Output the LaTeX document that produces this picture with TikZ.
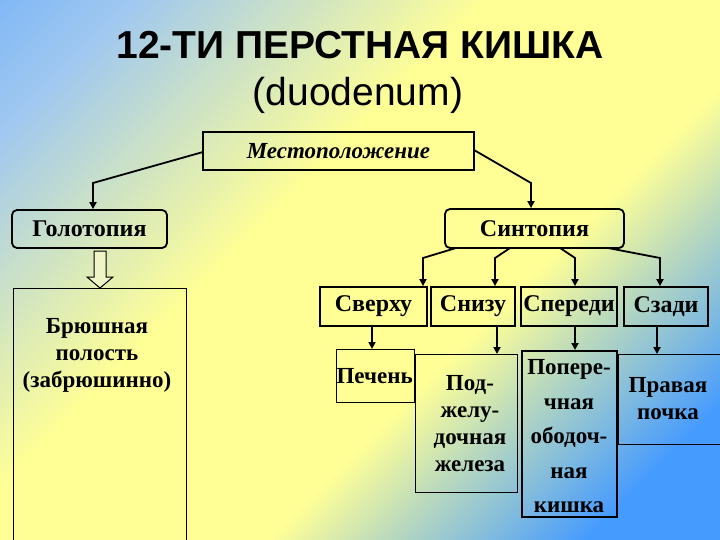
\documentclass[tikz,border=0pt]{standalone}
\usepackage{fontspec}
\setmainfont{Liberation Serif}
\newfontfamily\titlefont{Liberation Sans}
\usetikzlibrary{arrows.meta}
\definecolor{bgblue}{RGB}{70,155,255}
\definecolor{bglight}{RGB}{160,200,240}
\definecolor{bgyellow}{RGB}{255,255,150}
\pgfdeclareverticalshading{bgshade}{100bp}{color(0bp)=(bgblue); color(22bp)=(bgblue); color(40bp)=(bgyellow); color(58bp)=(bgyellow); color(78bp)=(bglight); color(100bp)=(bgblue)}
\begin{document}
\begin{tikzpicture}[x=1pt,y=-1pt,
  bx/.style={draw=black,line width=1.8pt,inner sep=0pt,font=\bfseries\fontsize{24}{27}\selectfont},
  thin/.style={draw=black,line width=1pt,inner sep=0pt},
  txt/.style={align=center,font=\bfseries\fontsize{23}{27}\selectfont},
  arr/.style={line width=1.8pt,-{Triangle[length=7pt,width=7pt]}}]
\shade[shading=bgshade,shading angle=45] (0,0) rectangle (720,540);
\useasboundingbox (0,0) rectangle (720,540);
\node[font=\titlefont\bfseries\fontsize{39}{44}\selectfont] (t1) at (360,45) {12-ТИ ПЕРСТНАЯ КИШКА};
\node[font=\titlefont\fontsize{39}{44}\selectfont] (t2) at (358,95) {(duodenum)};
\node[bx,line width=1.6pt,minimum width=271pt,minimum height=38pt,font=\bfseries\itshape\fontsize{23}{27}\selectfont] (m) at (338.5,151) {Местоположение};
\node[bx,rounded corners=5pt,minimum width=155pt,minimum height=38pt] (g) at (89.5,229) {Голотопия};
\node[bx,rounded corners=5pt,minimum width=179pt,minimum height=39pt] (s) at (534.5,228.5) {Синтопия};
\node[thin,minimum width=173pt,minimum height=260pt] (b) at (99.5,418) {};
\node[txt] (bt) at (97,355) {Брюшная\\полость\\(забрюшинно)};
\node[bx,minimum width=107pt,minimum height=39pt] (v1) at (373.5,306.5) {Сверху};
\node[bx,minimum width=84pt,minimum height=39pt] (v2) at (473,306.5) {Снизу};
\node[bx,minimum width=96pt,minimum height=39pt] (v3) at (569,306.5) {Спереди};
\node[bx,minimum width=84pt,minimum height=39pt] (v4) at (666,306.5) {Сзади};
\node[thin,minimum width=78pt,minimum height=53pt,anchor=north west] (o1) at (336,349) {};
\node[txt,anchor=west] (o1t) at (333,376) {Печень};
\node[thin,minimum width=102pt,minimum height=138pt,anchor=north west] (o2) at (415,354) {};
\node[txt] (o2t) at (470,424) {Под-\\желу-\\дочная\\железа};
\node[bx,minimum width=95pt,minimum height=166pt,anchor=north west] (o3) at (521,350) {};
\node[align=center,font=\bfseries\fontsize{23}{34.5}\selectfont,anchor=north] (o3t) at (569,356) {Попере-\\чная\\ободоч-\\ная\\кишка};
\node[thin,minimum width=104pt,minimum height=90pt,anchor=north west] (o4) at (618,354) {};
\node[txt] (o4t) at (668,399) {Правая\\почка};
% connectors
\coordinate (mL) at (203,152); \coordinate (mR) at (474,150);
\draw[arr] (mL) -- (93,183) -- (93,183 |- g.north);
\draw[arr] (mR) -- (531,183) -- (531,183 |- s.north);
\draw[arr] (456,248) -- (423,258) -- (423,258 |- v1.north);
\draw[arr] (510,248) -- (495,258) -- (495,258 |- v2.north);
\draw[arr] (560,248) -- (575,258) -- (575,258 |- v3.north);
\draw[arr] (608,248) -- (660,258) -- (660,258 |- v4.north);
\draw[arr] (372,0 |- v1.south) -- (372,0 |- o1.north);
\draw[arr] (497,0 |- v2.south) -- (497,0 |- o2.north);
\draw[arr] (575,0 |- v3.south) -- (575,0 |- o3.north);
\draw[arr] (657,0 |- v4.south) -- (657,0 |- o4.north);
\draw[line width=1pt,fill={rgb,255:red,240;green,245;blue,200}] (94,251) -- (106,251) -- (106,277) -- (113,277) -- (100,288) -- (87,277) -- (94,277) -- cycle;
\end{tikzpicture}
\end{document}
